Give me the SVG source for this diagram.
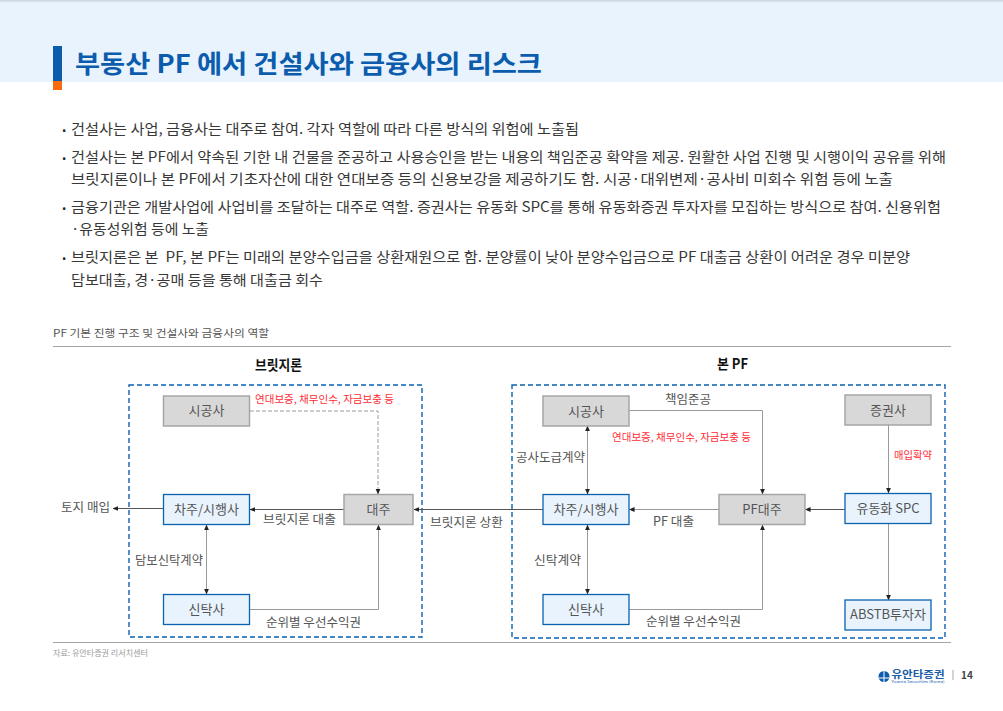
<svg xmlns="http://www.w3.org/2000/svg" width="1003" height="711" viewBox="0 0 1003 711">
<defs>
<linearGradient id="topfade" x1="0" y1="0" x2="0" y2="1"><stop offset="0" stop-color="#c9d3de"/><stop offset="1" stop-color="#e8f3fd"/></linearGradient>
<marker id="ah" viewBox="0 0 6 6" refX="5.5" refY="3" markerWidth="5.500" markerHeight="5.500" orient="auto-start-reverse" markerUnits="userSpaceOnUse"><path d="M0 0.4L6 3L0 5.6Z" fill="#222"/></marker>
</defs>
<style>
text{font-family:"Noto Sans CJK KR","Noto Sans",sans-serif;fill:#404040}
.body{font-size:14px;fill:#383838}
.dot{font-size:14px;font-weight:700;fill:#222}
.lab{font-size:12.5px;fill:#555}
.nt{font-size:13px;fill:#555;text-anchor:middle}
.red{font-size:10.5px;fill:#ff2b35}
.head{font-size:14px;font-weight:700;fill:#111}
.gray{fill:#d8d8d8;stroke:#a6a6a6;stroke-width:1.5}
.blue{fill:#e8f3fd;stroke:#0b62b0;stroke-width:1.3}
.dash{fill:none;stroke:#0b62b0;stroke-width:1.4;stroke-dasharray:5 3}
.c{fill:none;stroke:#9a9a9a;stroke-width:1}
.cd{fill:none;stroke:#555;stroke-width:1}
.a{marker-end:url(#ah)}
.b{marker-start:url(#ah);marker-end:url(#ah)}
</style>
<rect width="1003" height="82" fill="#e8f3fd"/>
<rect width="1003" height="3" fill="url(#topfade)"/>
<rect x="53" y="46" width="9" height="35" fill="#0b5cad"/>
<rect x="53" y="81" width="9" height="9" fill="#fb6a0e"/>
<text x="75" y="73" font-size="25" font-weight="700" style="fill:#0b5cad" textLength="467" lengthAdjust="spacingAndGlyphs">부동산 PF 에서 건설사와 금융사의 리스크</text>
<g id="bullets">
<text class="dot" x="60" y="136">·</text>
<text class="body" x="71" y="134" textLength="508" lengthAdjust="spacingAndGlyphs">건설사는 사업, 금융사는 대주로 참여. 각자 역할에 따라 다른 방식의 위험에 노출됨</text>
<text class="dot" x="60" y="164">·</text>
<text class="body" x="71" y="162" textLength="875" lengthAdjust="spacingAndGlyphs">건설사는 본 PF에서 약속된 기한 내 건물을 준공하고 사용승인을 받는 내용의 책임준공 확약을 제공. 원활한 사업 진행 및 시행이익 공유를 위해</text>
<text class="body" x="71" y="184" textLength="822" lengthAdjust="spacingAndGlyphs">브릿지론이나 본 PF에서 기초자산에 대한 연대보증 등의 신용보강을 제공하기도 함. 시공·대위변제·공사비 미회수 위험 등에 노출</text>
<text class="dot" x="60" y="214">·</text>
<text class="body" x="71" y="212" textLength="870" lengthAdjust="spacingAndGlyphs">금융기관은 개발사업에 사업비를 조달하는 대주로 역할. 증권사는 유동화 SPC를 통해 유동화증권 투자자를 모집하는 방식으로 참여. 신용위험</text>
<text class="body" x="71" y="234" textLength="138" lengthAdjust="spacingAndGlyphs">·유동성위험 등에 노출</text>
<text class="dot" x="60" y="264">·</text>
<text class="body" x="71" y="262" textLength="839" lengthAdjust="spacingAndGlyphs">브릿지론은 본 &#160;PF, 본 PF는 미래의 분양수입금을 상환재원으로 함. 분양률이 낮아 분양수입금으로 PF 대출금 상환이 어려운 경우 미분양</text>
<text class="body" x="71" y="285" textLength="252" lengthAdjust="spacingAndGlyphs">담보대출, 경·공매 등을 통해 대출금 회수</text>
</g>
<text x="53" y="337" font-size="10.5" textLength="216" lengthAdjust="spacingAndGlyphs" style="fill:#555">PF 기본 진행 구조 및 건설사와 금융사의 역할</text>
<line x1="53" y1="346.500" x2="951" y2="346.500" stroke="#a6a6a6"/>
<line x1="53" y1="642.500" x2="951" y2="642.500" stroke="#a6a6a6"/>
<text x="53" y="656" font-size="7.500" textLength="95" lengthAdjust="spacingAndGlyphs" style="fill:#999">자료: 유안타증권 리서치센터</text>
<rect x="129" y="385" width="293" height="252" class="dash"/>
<rect x="512" y="385" width="433" height="253" class="dash"/>
<text class="head" x="255" y="370" textLength="47" lengthAdjust="spacingAndGlyphs">브릿지론</text>
<text class="head" x="717" y="369" textLength="31" lengthAdjust="spacingAndGlyphs">본 PF</text>
<g id="connectors">
<path class="c" d="M250 411H378V494" stroke-dasharray="4 2" marker-end="url(#ah)"/>
<path class="cd a" d="M163 508.500H113"/>
<path class="cd a" d="M344 509.500H250"/>
<path class="c b" d="M206.500 525V594"/>
<path class="c a" d="M250 609.500H378.500V525"/>
<path class="cd a" d="M543 509.500H414"/>
<path class="c b" d="M587.500 426V494"/>
<path class="c a" d="M629 410.500H762.500V494"/>
<path class="c a" d="M719 509.500H629.500"/>
<path class="cd a" d="M845 509.500H805.500"/>
<path class="c b" d="M587.500 525V594"/>
<path class="c a" d="M629 609.500H762.500V525"/>
<path class="c a" d="M888.500 424V493"/>
<path class="c a" d="M888.500 524V600"/>
</g>
<g id="n1"><rect class="gray" x="163.500" y="396" width="86" height="30"/><text class="nt" x="206.500" y="415">시공사</text></g>
<g id="n2"><rect class="blue" x="163.500" y="494.500" width="86" height="30"/><text class="nt" x="206.500" y="514">차주/시행사</text></g>
<g id="n3"><rect class="gray" x="344" y="494.500" width="69" height="30"/><text class="nt" x="378.500" y="514">대주</text></g>
<g id="n4"><rect class="blue" x="163.500" y="594.500" width="86" height="30"/><text class="nt" x="206.500" y="614">신탁사</text></g>
<g id="n5"><rect class="gray" x="543" y="396" width="86" height="30"/><text class="nt" x="586" y="416">시공사</text></g>
<g id="n6"><rect class="gray" x="845" y="395" width="86" height="30"/><text class="nt" x="888" y="415">증권사</text></g>
<g id="n7"><rect class="blue" x="543" y="494.500" width="86" height="30"/><text class="nt" x="586" y="514">차주/시행사</text></g>
<g id="n8"><rect class="gray" x="719" y="494.500" width="86" height="30"/><text class="nt" x="762" y="514">PF대주</text></g>
<g id="n9"><rect class="blue" x="845" y="493.500" width="86" height="30"/><text class="nt" x="888" y="513">유동화 SPC</text></g>
<g id="n10"><rect class="blue" x="543" y="594.500" width="86" height="30"/><text class="nt" x="586" y="614">신탁사</text></g>
<g id="n11"><rect class="blue" x="845" y="600" width="86" height="30"/><text class="nt" x="888" y="619">ABSTB투자자</text></g>
<g id="labels">
<text class="red" x="255" y="403" textLength="139" lengthAdjust="spacingAndGlyphs">연대보증, 채무인수, 자금보충 등</text>
<text class="red" x="612" y="441" textLength="139" lengthAdjust="spacingAndGlyphs">연대보증, 채무인수, 자금보충 등</text>
<text class="red" x="894" y="459" textLength="38" lengthAdjust="spacingAndGlyphs">매입확약</text>
<text class="lab" x="61" y="512" textLength="49" lengthAdjust="spacingAndGlyphs">토지 매입</text>
<text class="lab" x="263" y="524" textLength="73" lengthAdjust="spacingAndGlyphs">브릿지론 대출</text>
<text class="lab" x="135" y="565" textLength="68" lengthAdjust="spacingAndGlyphs">담보신탁계약</text>
<text class="lab" x="266" y="627" textLength="95" lengthAdjust="spacingAndGlyphs">순위별 우선수익권</text>
<text class="lab" x="430" y="527" textLength="73" lengthAdjust="spacingAndGlyphs">브릿지론 상환</text>
<text class="lab" x="516" y="462" textLength="69" lengthAdjust="spacingAndGlyphs">공사도급계약</text>
<text class="lab" x="665" y="404" textLength="46" lengthAdjust="spacingAndGlyphs">책임준공</text>
<text class="lab" x="653" y="526" textLength="41" lengthAdjust="spacingAndGlyphs">PF 대출</text>
<text class="lab" x="534" y="565" textLength="47" lengthAdjust="spacingAndGlyphs">신탁계약</text>
<text class="lab" x="646" y="626" textLength="95" lengthAdjust="spacingAndGlyphs">순위별 우선수익권</text>
</g>
<g id="footer">
<circle cx="884" cy="676.500" r="5.500" fill="#0b5cad"/>
<path d="M884 670V683M878.500 678L889.500 678" stroke="#fff" stroke-width="1"/>
<text x="891.500" y="678" font-size="10.500" font-weight="700" textLength="53" lengthAdjust="spacingAndGlyphs" style="fill:#1c5ea8">유안타증권</text>
<text x="891.500" y="683" font-size="3.500" textLength="53" lengthAdjust="spacingAndGlyphs" style="fill:#1c5ea8">Yuanta Securities (Korea)</text>
<line x1="953" y1="670" x2="953" y2="680" stroke="#aaa"/>
<text x="961" y="679" font-size="10" font-weight="700" style="fill:#444">14</text>
</g>
</svg>
